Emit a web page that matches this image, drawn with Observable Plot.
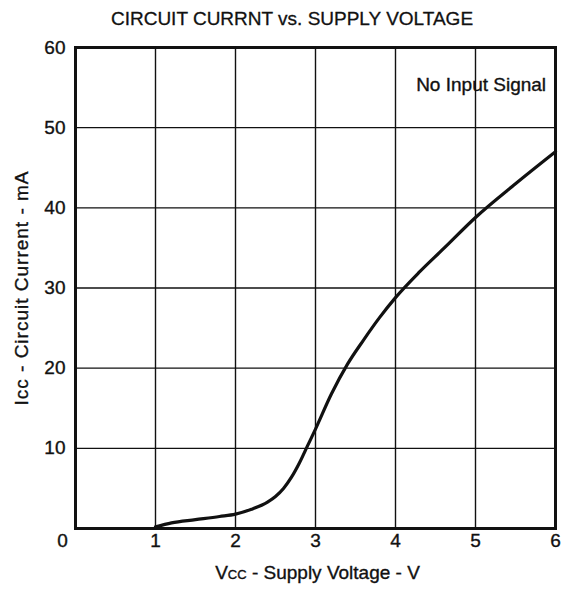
<!DOCTYPE html>
<html>
<head>
<meta charset="utf-8">
<script src="https://cdn.jsdelivr.net/npm/d3@7"></script>
<script src="https://cdn.jsdelivr.net/npm/@observablehq/plot@0.6"></script>
<style>
  body { margin: 0; background: #fff; font-family: "Liberation Sans", Arial, sans-serif; }
  #title { height: 32px; line-height: 38px; text-align: center; font-size: 19px; color: #111; padding-left: 23px; -webkit-text-stroke: 0.3px #111; }
</style>
</head>
<body>
<div id="title">CIRCUIT CURRNT vs. SUPPLY VOLTAGE</div>
<div id="chart"></div>
<script>
const voltage = [1.0, 1.2, 1.5, 1.8, 2.0, 2.2, 2.4, 2.5, 2.6, 2.7, 2.8, 2.9, 3.0, 3.2, 3.4, 3.6, 3.8, 4.0, 4.3, 4.6, 5.0, 5.5, 6.0];
const current = [0.2, 0.7, 1.1, 1.5, 1.8, 2.4, 3.3, 4.0, 5.0, 6.4, 8.2, 10.3, 12.4, 16.8, 20.5, 23.5, 26.3, 28.8, 32.0, 34.9, 38.8, 43.0, 47.0];
const xTicks = [1, 2, 3, 4, 5, 6];
const yTicks = [10, 20, 30, 40, 50, 60];
const gridX = [1, 2, 3, 4, 5];
const gridY = [10, 20, 30, 40, 50];
const annotation = "No Input Signal";
const xLabel = "Vcc - Supply Voltage - V";
const yLabel = "Icc - Circuit Current - mA";

const data = voltage.map((v, i) => ({v, c: current[i]}));

const chart = Plot.plot({
  width: 561,
  height: 557,
  marginTop: 15,
  marginLeft: 75,
  marginRight: 6,
  marginBottom: 61,
  style: {fontFamily: "Liberation Sans, Arial, sans-serif", fontSize: "19px", color: "#111", background: "white", overflow: "visible"},
  x: {domain: [0, 6], ticks: xTicks, tickFormat: "d", tickSize: 0, tickPadding: 5, label: null},
  y: {domain: [0, 60], ticks: yTicks, tickFormat: "d", tickSize: 0, tickPadding: 10, label: null},
  marks: [
    Plot.ruleX(gridX, {stroke: "#111", strokeWidth: 1.4}),
    Plot.ruleY(gridY, {stroke: "#111", strokeWidth: 1.4}),
    Plot.frame({stroke: "#111", strokeWidth: 3}),
    Plot.line(data, {x: "v", y: "c", stroke: "#111", strokeWidth: 3.2, curve: "monotone-x"}),
    Plot.text([annotation], {x: 5.07, y: 55.3, text: d => d, fontSize: 19, fill: "#111"}),
    Plot.text(["0"], {x: 0, y: 0, text: d => d, dx: -13, dy: 12, fontSize: 19, fill: "#111"}),
    Plot.text([xLabel], {frameAnchor: "bottom", text: d => d, dx: 2, dy: 50, fontSize: 19, fill: "#111"}),
    Plot.text([yLabel], {x: -0.675, y: 30, text: d => d, rotate: -90, fontSize: 19, fill: "#111"})
  ]
});
document.getElementById("chart").appendChild(chart);

const svg = d3.select(chart);
svg.selectAll("text").each(function() {
  const t = d3.select(this);
  const s = t.text();
  if (s === xLabel) {
    t.text(null);
    t.append("tspan").text(s.slice(0, 1));
    t.append("tspan").attr("font-size", "13px").text("CC");
    t.append("tspan").text(s.slice(3));
  } else if (s === yLabel) {
    t.style("letter-spacing", "1px");
  }
});
svg.selectAll("text").style("stroke", "#111").style("stroke-width", "0.35px");
</script>
</body>
</html>
